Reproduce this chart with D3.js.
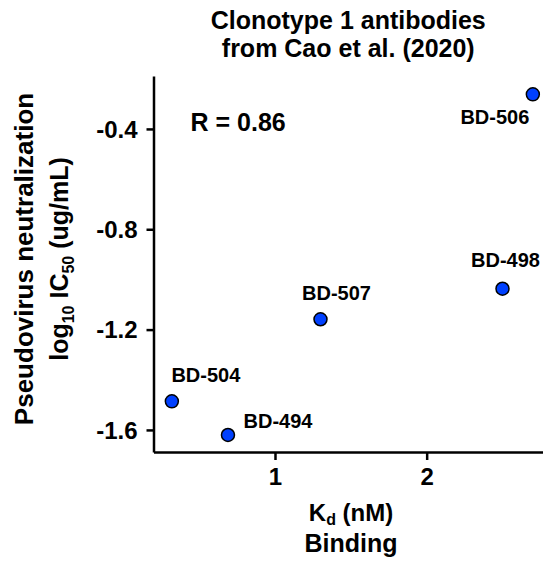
<!DOCTYPE html>
<html>
<head>
<meta charset="utf-8">
<script src="https://cdn.jsdelivr.net/npm/d3@7"></script>
<style>
  body { margin: 0; background: #fff; }
  text { font-family: "Liberation Sans", Arial, sans-serif; font-weight: bold; fill: #000; }
  .axis path, .axis line { stroke: #000; stroke-width: 2.5px; }
</style>
</head>
<body>
<script>
// antibodies (Kd in nM, log10 IC50)
var names = ["BD-504", "BD-494", "BD-507", "BD-498", "BD-506"];
var kd = [0.32, 0.69, 1.30, 2.50, 2.70];
var logIC50 = [-1.486, -1.62, -1.159, -1.037, -0.262];
var xTicks = [1, 2];
var yTicks = [-1.6, -1.2, -0.8, -0.4];

// label nudges in px (center x, baseline y) relative to each point
var labelDx = [34, 50, 16, 3, -38];
var labelDy = [-19, -7, -19, -22, 30];

var W = 543, H = 564;
var margin = {top: 76, right: 0, bottom: 112, left: 153.5};

var x = d3.scaleLinear().domain([0.199, 2.767]).range([margin.left, W - margin.right]);
var y = d3.scaleLinear().domain([-1.688, -0.189]).range([H - margin.bottom, margin.top]);

var svg = d3.select("body").append("svg")
  .attr("width", W)
  .attr("height", H);

var data = names.map(function(d, i) { return {name: d, x: kd[i], y: logIC50[i], dx: labelDx[i], dy: labelDy[i]}; });

// axes (plain hyphen for minus, like the original)
var xAxis = svg.append("g")
  .attr("class", "axis")
  .attr("transform", "translate(0," + (H - margin.bottom) + ")")
  .call(d3.axisBottom(x).tickValues(xTicks).tickFormat(function(d) { return String(d); }).tickSize(8).tickPadding(8).tickSizeOuter(0));
xAxis.selectAll("text").style("font-size", "24px");

var yAxis = svg.append("g")
  .attr("class", "axis")
  .attr("transform", "translate(" + margin.left + ",0)")
  .call(d3.axisLeft(y).tickValues(yTicks).tickFormat(function(d) { return d.toFixed(1); }).tickSize(7).tickPadding(9).tickSizeOuter(0));
yAxis.selectAll("text").style("font-size", "24px").attr("dy", "0.35em");

// points
svg.selectAll(".dot")
  .data(data)
  .enter().append("circle")
  .attr("class", "dot")
  .attr("cx", function(d) { return x(d.x); })
  .attr("cy", function(d) { return y(d.y); })
  .attr("r", 6.5)
  .attr("fill", "#0040ff")
  .attr("stroke", "#000")
  .attr("stroke-width", 1.5);

svg.selectAll(".lab")
  .data(data)
  .enter().append("text")
  .attr("class", "lab")
  .attr("x", function(d) { return x(d.x) + d.dx; })
  .attr("y", function(d) { return y(d.y) + d.dy; })
  .attr("text-anchor", "middle")
  .style("font-size", "20px")
  .text(function(d) { return d.name; });

// R annotation
svg.append("text")
  .attr("x", 190.5)
  .attr("y", 131)
  .style("font-size", "25px")
  .text("R = 0.86");

// title
var cx = (margin.left + W) / 2;
svg.append("text")
  .attr("x", cx).attr("y", 28.5)
  .attr("text-anchor", "middle")
  .style("font-size", "25px")
  .text("Clonotype 1 antibodies");
svg.append("text")
  .attr("x", cx).attr("y", 56.5)
  .attr("text-anchor", "middle")
  .style("font-size", "25px")
  .text("from Cao et al. (2020)");

// x label
var kdLab = svg.append("text")
  .attr("x", 351).attr("y", 521)
  .attr("text-anchor", "middle")
  .style("font-size", "24px");
kdLab.append("tspan").text("K");
kdLab.append("tspan").attr("dy", 4).style("font-size", "16px").text("d");
kdLab.append("tspan").attr("dy", -4).text(" (nM)");
svg.append("text")
  .attr("x", 351).attr("y", 552)
  .attr("text-anchor", "middle")
  .style("font-size", "25px")
  .text("Binding");

// y label
var yc = 259;
svg.append("text")
  .attr("transform", "translate(33," + yc + ") rotate(-90)")
  .attr("text-anchor", "middle")
  .style("font-size", "26px")
  .text("Pseudovirus neutralization");
var yl = svg.append("text")
  .attr("transform", "translate(68," + yc + ") rotate(-90)")
  .attr("text-anchor", "middle")
  .style("font-size", "25px");
yl.append("tspan").text("log");
yl.append("tspan").attr("dy", 6).style("font-size", "16px").text("10");
yl.append("tspan").attr("dy", -6).text(" IC");
yl.append("tspan").attr("dy", 6).style("font-size", "16px").text("50");
yl.append("tspan").attr("dy", -6).text(" (ug/mL)");
</script>
</body>
</html>
